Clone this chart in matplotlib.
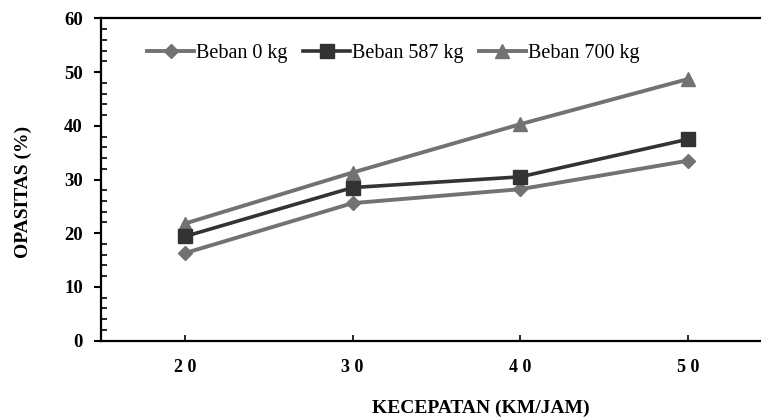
import matplotlib
matplotlib.use("Agg")
import matplotlib.pyplot as plt
from matplotlib.ticker import MultipleLocator

categories = ["2 0", "3 0", "4 0", "5 0"]
beban_0 = [16.3, 25.6, 28.2, 33.5]
beban_587 = [19.4, 28.5, 30.5, 37.5]
beban_700 = [21.8, 31.3, 40.3, 48.7]
labels = ["Beban 0 kg", "Beban 587 kg", "Beban 700 kg"]

plt.rcParams['font.family'] = ['Liberation Serif', 'DejaVu Serif']

fig = plt.figure(figsize=(7.61, 4.17), dpi=100)
ax = fig.add_axes([101/761, 1-340.7/417, 671/761, (340.7-18.3)/417])

x = list(range(len(categories)))
gray = "#727272"
dark = "#333333"
ax.plot(x, beban_0, color=gray, lw=2.8, marker="D", ms=7.5, mfc=gray, mec=gray, label=labels[0], zorder=3)
ax.plot(x, beban_587, color=dark, lw=2.6, marker="s", ms=10, mfc=dark, mec=dark, label=labels[1], zorder=4)
ax.plot(x, beban_700, color=gray, lw=2.8, marker="^", ms=10.5, mfc=gray, mec=gray, label=labels[2], zorder=3)

ax.set_xlim(-0.5, 3.5)
ax.set_ylim(0, 60)
ax.set_xticks(x)
ax.set_xticklabels(categories, fontweight="bold", fontsize=13)
ax.yaxis.set_major_locator(MultipleLocator(10))
ax.yaxis.set_minor_locator(MultipleLocator(2))
for lab in ax.get_yticklabels():
    lab.set_fontweight("bold")
    lab.set_fontsize(13.5)

ax.tick_params(axis="y", which="major", direction="out", length=5, width=1.5, pad=8)
ax.tick_params(axis="y", which="minor", direction="in", length=4, width=1.2)
ax.tick_params(axis="x", which="major", direction="in", length=4, width=1.2, pad=13)

for s in ["left", "bottom", "top"]:
    ax.spines[s].set_linewidth(1.6)
    ax.spines[s].set_color("black")
ax.spines["right"].set_visible(False)

ax.set_ylabel("OPASITAS (%)", fontweight="bold", fontsize=14)
ax.set_xlabel("KECEPATAN (KM/JAM)", fontweight="bold", fontsize=14)
ax.xaxis.set_label_coords((481-101)/671, -(408-340.7)/322.4)
ax.yaxis.set_label_coords(-(101-23)/671, (340.7-192)/322.4)
ax.xaxis.label.set_va("center")
ax.yaxis.label.set_va("center")

leg = ax.legend(ncol=3, frameon=False, loc="center left", bbox_to_anchor=(38/671, 0.89),
                fontsize=14.5, handlelength=2.35, handletextpad=0.1, columnspacing=0.75, borderaxespad=0)

fig.savefig("out.png", dpi=100)
